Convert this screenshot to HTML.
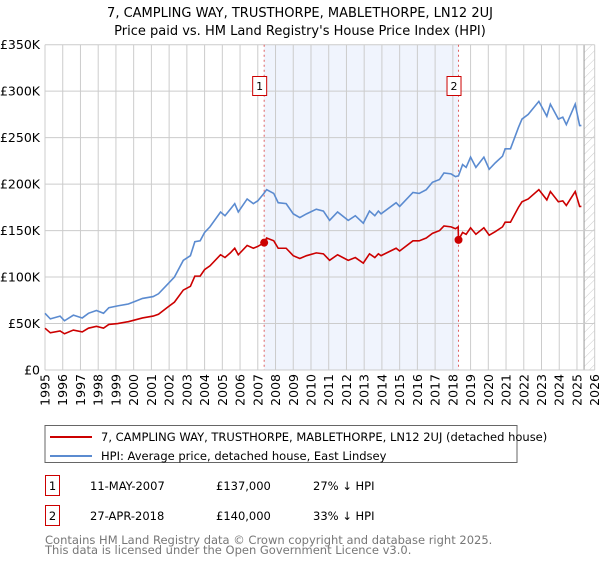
<!DOCTYPE html>
<html><head><meta charset="utf-8"><style>
body{margin:0;background:#fff;width:600px;height:560px;overflow:hidden;font-family:"DejaVu Sans","Liberation Sans",sans-serif;}
svg text{font-family:"DejaVu Sans","Liberation Sans",sans-serif;}
</style></head><body>
<svg id="chart" width="600" height="560" xmlns="http://www.w3.org/2000/svg">
<defs><pattern id="hatch" width="6" height="6" patternUnits="userSpaceOnUse" patternTransform="rotate(45)"><line x1="0" y1="0" x2="0" y2="6" stroke="#ccc" stroke-width="1"/></pattern></defs>
<text x="300" y="17" text-anchor="middle" font-size="13">7, CAMPLING WAY, TRUSTHORPE, MABLETHORPE, LN12 2UJ</text>
<text x="300" y="35" text-anchor="middle" font-size="13">Price paid vs. HM Land Registry's House Price Index (HPI)</text>
<g id="plot"></g>
<g>
<rect x="45" y="425.5" width="472" height="37" fill="#fff" stroke="#666"/>
<line x1="50" y1="437" x2="92" y2="437" stroke="#cc0000" stroke-width="2"/>
<text x="101" y="441" font-size="11.5">7, CAMPLING WAY, TRUSTHORPE, MABLETHORPE, LN12 2UJ (detached house)</text>
<line x1="50" y1="456" x2="92" y2="456" stroke="#5b8bd0" stroke-width="2"/>
<text x="101" y="460" font-size="11.5">HPI: Average price, detached house, East Lindsey</text>
</g>
<g font-size="11.5">
<rect x="45.5" y="475.5" width="14" height="20" fill="#fff" stroke="#cc0000"/>
<text x="52.5" y="490" text-anchor="middle">1</text>
<text x="90" y="490">11-MAY-2007</text><text x="216" y="490">£137,000</text><text x="313" y="490">27% ↓ HPI</text>
<rect x="45.5" y="505.5" width="14" height="20" fill="#fff" stroke="#cc0000"/>
<text x="52.5" y="520" text-anchor="middle">2</text>
<text x="90" y="520">27-APR-2018</text><text x="216" y="520">£140,000</text><text x="313" y="520">33% ↓ HPI</text>
</g>
<text font-size="11.5" fill="#777"><tspan x="45" y="544">Contains HM Land Registry data © Crown copyright and database right 2025.</tspan><tspan x="45" y="554">This data is licensed under the Open Government Licence v3.0.</tspan></text>
</svg>
<script>
const hpiYears=[1995.0,1995.3,1995.85,1996.1,1996.6,1997.1,1997.45,1997.9,1998.3,1998.6,1999.1,1999.7,2000.1,2000.5,2001.1,2001.4,2001.95,2002.3,2002.8,2003.2,2003.45,2003.75,2004.0,2004.3,2004.9,2005.15,2005.45,2005.7,2005.9,2006.4,2006.75,2007.0,2007.3,2007.5,2007.9,2008.15,2008.6,2009.0,2009.37,2009.75,2010.3,2010.7,2011.05,2011.5,2012.1,2012.5,2012.95,2013.3,2013.6,2013.8,2013.95,2014.8,2015.0,2015.75,2016.1,2016.5,2016.85,2017.25,2017.5,2017.9,2018.15,2018.32,2018.55,2018.75,2019.0,2019.3,2019.75,2020.05,2020.4,2020.8,2020.95,2021.25,2021.7,2021.9,2022.25,2022.85,2023.3,2023.5,2023.95,2024.2,2024.4,2024.9,2025.15,2025.25];
const hpiValues=[61,55,58,53,59,56,61,64,61,67,69,71,74,77,79,82,93,100,118,123,138,139,148,154,170,166,173,179,170,184,179,182,189,194,190,180,179,168,164,168,173,171,161,170,161,166,158,171,166,171,168,180,176,191,190,194,202,205,212,211,208,209,221,218,229,218,229,216,223,230,238,238,261,270,275,289,273,286,270,272,264,286,263,263];
const priceYears=[1995.0,1995.3,1995.85,1996.1,1996.6,1997.1,1997.45,1997.9,1998.3,1998.6,1999.1,1999.7,2000.1,2000.5,2001.1,2001.4,2001.95,2002.3,2002.8,2003.2,2003.45,2003.75,2004.0,2004.3,2004.9,2005.15,2005.45,2005.7,2005.9,2006.4,2006.75,2007.0,2007.36,2007.5,2007.9,2008.15,2008.6,2009.0,2009.37,2009.75,2010.3,2010.7,2011.05,2011.5,2012.1,2012.5,2012.95,2013.3,2013.6,2013.8,2013.95,2014.8,2015.0,2015.75,2016.1,2016.5,2016.85,2017.25,2017.5,2017.9,2018.15,2018.3,2018.32,2018.55,2018.75,2019.0,2019.3,2019.75,2020.05,2020.4,2020.8,2020.95,2021.25,2021.7,2021.9,2022.25,2022.85,2023.3,2023.5,2023.95,2024.2,2024.4,2024.9,2025.15,2025.25];
const priceValues=[45,40,42,39,43,41,45,47,45,49,50,52,54,56,58,60,68,73,86,90,101,101,108,112,124,121,126,131,124,134,131,133,137,142,139,131,131,123,120,123,126,125,118,124,118,121,115,125,121,125,123,131,128,139,139,142,147,150,155,154,152,154,140,148,146,153,146,153,145,149,154,159,159,175,181,184,194,183,192,181,182,177,192,176,176];
const saleYears=[2007.36,2018.32];
const saleValues=[137,140];
const saleLabels=["1","2"];
const yTicks=[0,50,100,150,200,250,300,350];
const yTickLabels=["£0","£50K","£100K","£150K","£200K","£250K","£300K","£350K"];
const xTicks=[1995,1996,1997,1998,1999,2000,2001,2002,2003,2004,2005,2006,2007,2008,2009,2010,2011,2012,2013,2014,2015,2016,2017,2018,2019,2020,2021,2022,2023,2024,2025,2026];

const X0=45,X1=594.7,Y0=370,Y1=44.7;
const xs=y=>X0+(y-1995)/(2026-1995)*(X1-X0);
const ys=v=>Y0-v/350*(Y0-Y1);
const NS="http://www.w3.org/2000/svg";
const g=document.getElementById('plot');
function mk(t,a){const e=document.createElementNS(NS,t);for(const k in a)e.setAttribute(k,a[k]);g.appendChild(e);return e;}

const shade=mk('rect',{x:xs(saleYears[0]),y:Y1,width:xs(saleYears[1])-xs(saleYears[0]),height:Y0-Y1,fill:'#f0f4fd'});


const hatch=mk('rect',{x:xs(2025.4),y:Y1,width:X1-xs(2025.4),height:Y0-Y1,fill:'url(#hatch)'});


mk('line',{x1:xs(2025.4),y1:Y1,x2:xs(2025.4),y2:Y0,stroke:'#999','stroke-width':1});

yTicks.forEach((v,i)=>{
 const l=mk('line',{x1:X0,y1:ys(v),x2:X1,y2:ys(v),stroke:'#ccc','stroke-width':1});
 
 
 const t=mk('text',{x:X0-5,y:ys(v)+4.5,'text-anchor':'end','font-size':'12.5'});
 t.textContent=yTickLabels[i];
 
 
});
xTicks.forEach(yr=>{
 const l=mk('line',{x1:xs(yr),y1:Y1,x2:xs(yr),y2:Y0,stroke:'#ccc','stroke-width':1});
 
 
 const t=mk('text',{x:0,y:0,'text-anchor':'end','font-size':'12.5',transform:`translate(${xs(yr)+4.5},${Y0+4}) rotate(-90)`});
 t.textContent=yr;
 
 
});

saleYears.forEach((yr,i)=>{
 const l=mk('line',{x1:xs(yr),y1:Y1,x2:xs(yr),y2:Y0,stroke:'#e06060','stroke-width':1,'stroke-dasharray':'2,3'});
 
 
});

const hp=mk('polyline',{points:hpiYears.map((y,i)=>xs(y)+','+ys(hpiValues[i])).join(' '),fill:'none',stroke:'#5b8bd0','stroke-width':1.6});


const pp=mk('polyline',{points:priceYears.map((y,i)=>xs(y)+','+ys(priceValues[i])).join(' '),fill:'none',stroke:'#cc0000','stroke-width':1.6});



saleYears.forEach((yr,i)=>{
 const c=mk('circle',{cx:xs(yr),cy:ys(saleValues[i]),r:4,fill:'#cc0000'});
 
 
 const b=mk('rect',{x:xs(yr)-11.5,y:76.5,width:14,height:19,fill:'#fff',stroke:'#cc0000'});
 
 
 const t=mk('text',{x:xs(yr)-4.5,y:90,'text-anchor':'middle','font-size':'11'});
 t.textContent=saleLabels[i];
 
 
});
</script>
</body></html>
